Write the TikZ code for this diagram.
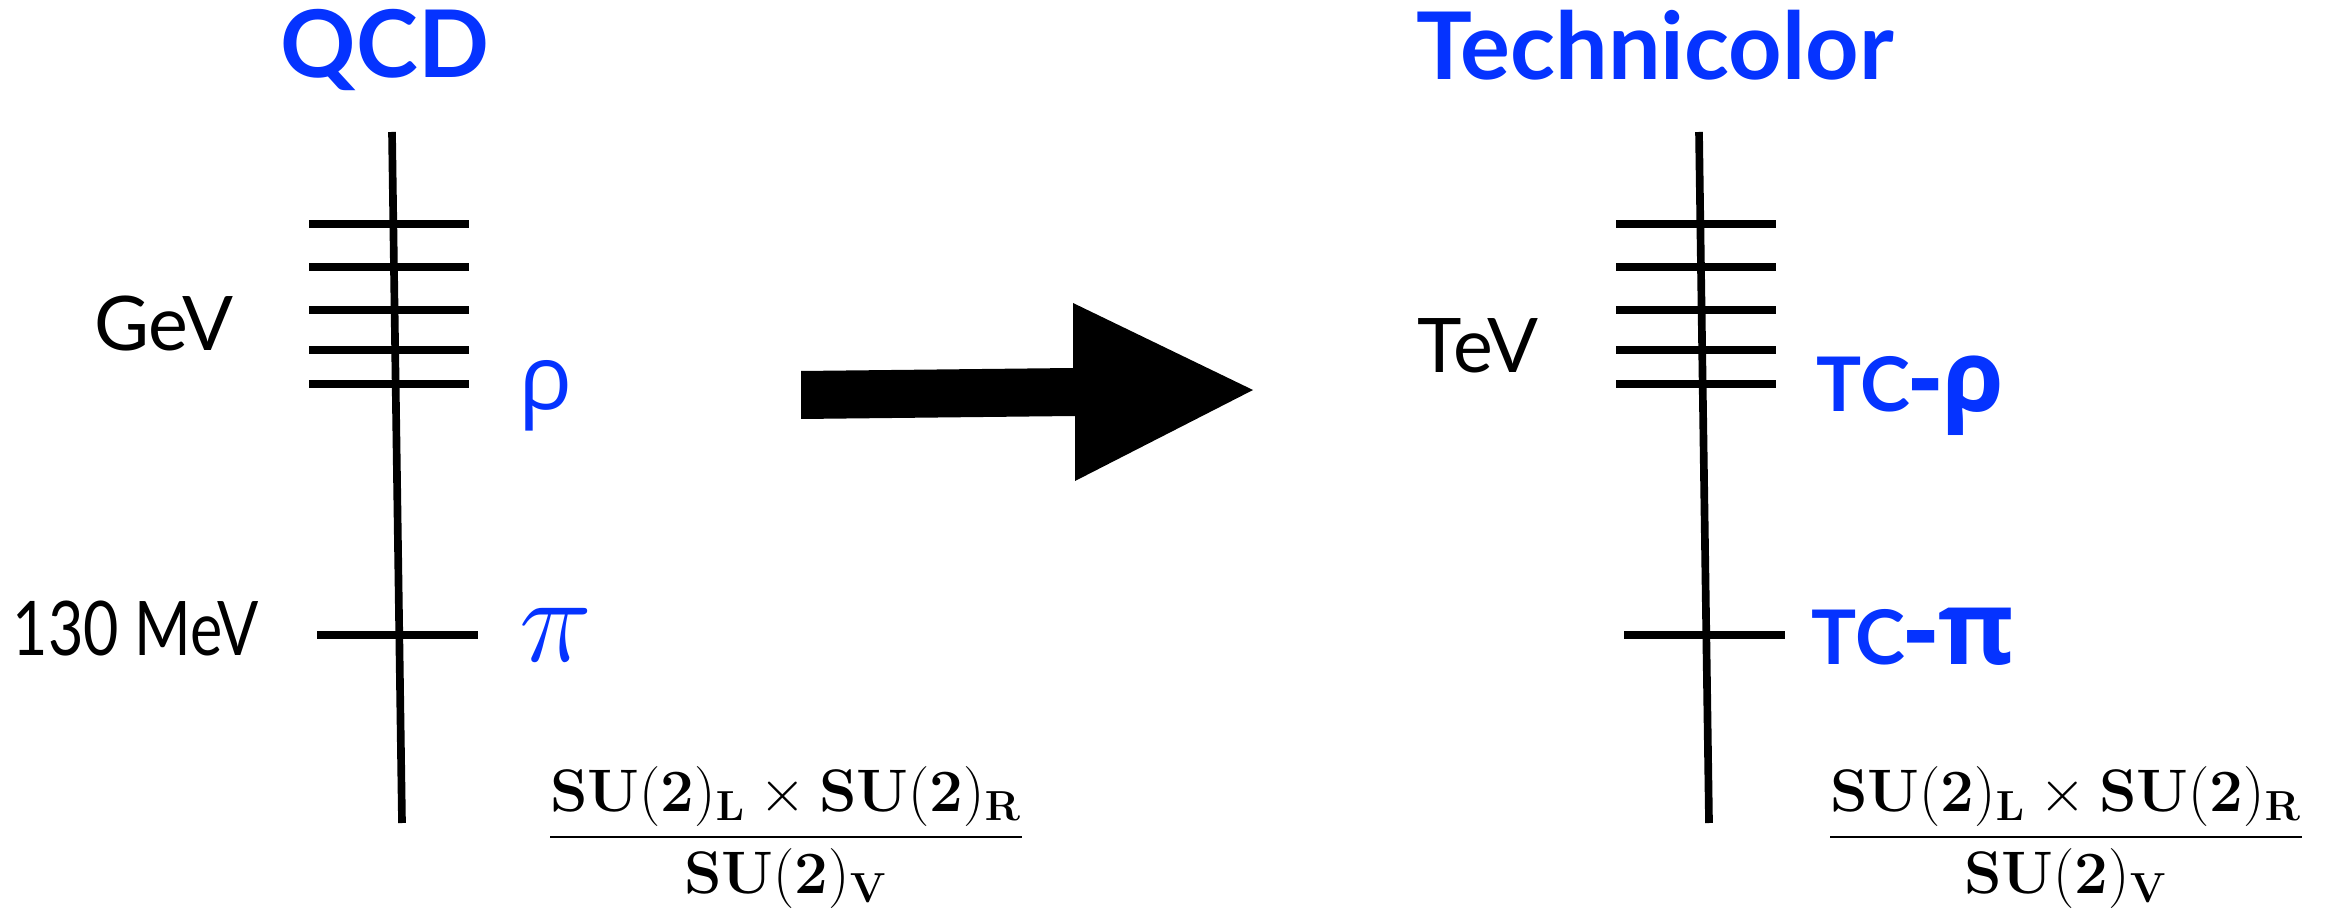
\RequirePackage{fix-cm}
\documentclass[tikz,border=0pt]{standalone}
\usepackage[no-math]{fontspec}
\setmainfont{Lato}
\newfontfamily\grk{Open Sans}
\definecolor{tcblue}{RGB}{5,51,255}
\begin{document}
\begin{tikzpicture}[x=0.3pt,y=-0.3pt,
  axisline/.style={line width=2.3pt},
  lbl/.style={anchor=base, inner sep=0pt, font=\fontsize{22.6}{27}\selectfont},
  ttl/.style={anchor=base, inner sep=0pt, text=tcblue, font=\fontsize{28}{33}\selectfont\bfseries},
  blu/.style={anchor=base, inner sep=0pt, text=tcblue},
  frac/.style={anchor=base, inner sep=0pt, font=\fontsize{18}{22}\selectfont}]
\useasboundingbox (0,0) rectangle (2340,910);
% titles
\node[ttl] (qcd) at (385,78) {QCD};
\node[ttl] (tc) at (1655,80) {Technicolor};
% axes
\coordinate (Ltop) at (392,132); \coordinate (Lbot) at (402,823);
\coordinate (Rtop) at (1699,132); \coordinate (Rbot) at (1709,823);
\draw[axisline] (Ltop) -- (Lbot);
\draw[axisline] (Rtop) -- (Rbot);
% ticks
\foreach \y [count=\i] in {224,267,310,350,384} {
  \coordinate (La\i) at (309,\y); \coordinate (Lb\i) at (469,\y);
  \coordinate (Ra\i) at (1616,\y); \coordinate (Rb\i) at (1776,\y);
  \draw[axisline] (La\i) -- (Lb\i);
  \draw[axisline] (Ra\i) -- (Rb\i);
}
\coordinate (Lpa) at (317,635); \coordinate (Lpb) at (478,635);
\coordinate (Rpa) at (1624,635); \coordinate (Rpb) at (1785,635);
\draw[axisline] (Lpa) -- (Lpb);
\draw[axisline] (Rpa) -- (Rpb);
% big arrow
\fill (801,371) -- (1073,368) -- (1073,303) -- (1253,390) -- (1075,481) -- (1075,416) -- (801,419) -- cycle;
% labels
\node[lbl] (gev) at (164,351) {GeV};
\node[lbl] (tev) at (1478,373) {TeV};
\node[lbl] (mev) at (136,655) {\scalebox{0.81}[1]{130 MeV}};
\node[blu, font=\grk\fontsize{27}{32}\selectfont] (rho) at (546,410) {ρ};
\node[blu, font=\fontsize{37}{42}\selectfont] (pi) at (556,661) {$\pi$};
\node[blu, anchor=base west, font=\fontsize{22.6}{27}\selectfont] (tcrho) at (1816,412)
  {\bfseries TC{\grk\fontsize{30}{30}\selectfont -ρ}};
\node[blu, anchor=base west, font=\fontsize{22.6}{27}\selectfont] (tcpi) at (1811,664)
  {\bfseries TC{\grk\fontsize{31}{32}\selectfont -π}};
% fractions
\node[frac] (f1) at (786,852) {$\displaystyle\frac{\mathbf{SU(2)_L\times SU(2)_R}}{\mathbf{SU(2)_V}}$};
\node[frac] (f2) at (2066,852) {$\displaystyle\frac{\mathbf{SU(2)_L\times SU(2)_R}}{\mathbf{SU(2)_V}}$};
\end{tikzpicture}
\end{document}
